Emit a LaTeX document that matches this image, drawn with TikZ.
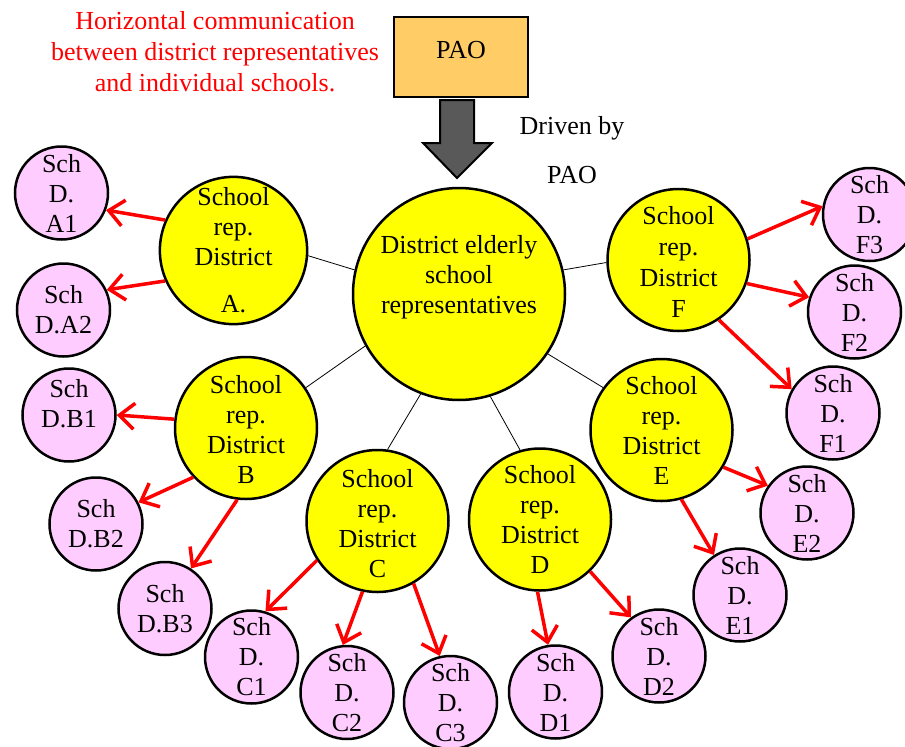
\documentclass[tikz,border=0pt]{standalone}
\usepackage{fontspec}
\setmainfont{Liberation Serif}
\usetikzlibrary{arrows.meta}
\definecolor{paoorange}{HTML}{FFCC66}
\definecolor{repyellow}{HTML}{FFFF00}
\definecolor{schpink}{HTML}{FFCCFF}
\definecolor{blockgray}{HTML}{595959}

\begin{document}
\begin{tikzpicture}[x=1pt,y=-1pt,
  txt/.style={font=\fontsize{26}{30}\selectfont, align=center},
  hub/.style={circle, draw, line width=2.5pt, fill=repyellow, minimum size=212pt, inner sep=0pt, txt},
  rep/.style={circle, draw, line width=2.5pt, fill=repyellow, minimum size=142pt, inner sep=0pt, txt},
  sch/.style={circle, draw, line width=2.5pt, fill=schpink, minimum size=93pt, inner sep=0pt, txt},
  link/.style={line width=0.8pt},
  feed/.style={red, line width=3.5pt, -{Straight Barb[length=15pt,width=26pt]}},
]
\useasboundingbox (0,0) rectangle (905,747);

% caption and top box
\node[txt, red, font=\fontsize{26}{31}\selectfont] (note) at (215,52)
  {Horizontal communication\\between district representatives\\and individual schools.};
\node[txt, draw, line width=2.5pt, fill=paoorange, minimum width=134pt, minimum height=80pt,
      text height=18pt, text depth=15pt] (pao) at (461,57) {PAO};
\node[txt] (drv1) at (572,128) {Driven by};
\node[txt] (drv2) at (572,175) {PAO};

% block arrow from the PAO box down to the hub
\draw[line width=2pt, fill=blockgray, line join=miter]
  (440,100) -- (474,100) -- (474,143) -- (492,143) -- (457,178)
  -- (423,143) -- (440,143) -- cycle;

% hub and district representatives
\node[hub] (hub) at (459,294) {};
\node[txt, yshift=17pt] (hubtxt) at (hub.center) {District elderly\\school\\representatives};
\node[rep] (A) at (233.5,250.5) {School\\rep.\\District\\[17pt]A.};
\node[rep] (B) at (246,428) {\\[-8pt]School\\rep.\\District\\B};
\node[rep] (C) at (377.5,521) {\\[-6pt]School\\rep.\\District\\C};
\node[rep] (D) at (540,519.5) {School\\rep.\\District\\D};
\node[rep] (E) at (661.5,430) {School\\rep.\\District\\E};
\node[rep, font=\fontsize{26}{31}\selectfont] (F) at (678.5,260) {\\[-10pt]School\\rep.\\District\\F};

% schools
\node[sch] (A1) at (61.5,193) {Sch\\D.\\A1};
\node[sch] (A2) at (63.5,310) {Sch\\D.A2};
\node[sch] (B1) at (69,415) {Sch\\D.B1\\[-6pt]};
\node[sch] (B2) at (96,524) {Sch\\D.B2};
\node[sch] (B3) at (165,608.5) {Sch\\D.B3};
\node[sch] (C1) at (251.5,657) {Sch\\D.\\C1};
\node[sch] (C2) at (347,692.5) {Sch\\D.\\C2};
\node[sch] (C3) at (450.5,702.5) {Sch\\D.\\C3};
\node[sch] (D1) at (555.5,692) {Sch\\D.\\D1};
\node[sch] (D2) at (659,656) {Sch\\D.\\D2};
\node[sch] (E1) at (740,595) {Sch\\D.\\E1};
\node[sch] (E2) at (807,513) {Sch\\D.\\E2};
\node[sch] (F1) at (833,413) {Sch\\D.\\F1};
\node[sch] (F2) at (854.5,312) {Sch\\D.\\F2};
\node[sch] (F3) at (869.5,214.5) {Sch\\D.\\F3};

% hub links
\draw[link] (hub.167) -- (A.-4);
\draw[link] (hub.209) -- (B.34);
\draw[link] (hub.249) -- (C.82);
\draw[link] (hub.-73) -- (D.106);
\draw[link] (hub.-34) -- (E.144);
\draw[link] (hub.13) -- (F.182);

% horizontal communication to schools
\draw[feed] (A.156) -- (A1.-21);
\draw[feed] (A.204) -- (A2.25);
\draw[feed] (B.173) -- (B1.0);
\draw[feed] (B.223) -- (B2.27);
\draw[feed] (B.263) -- (B3.57);
\draw[feed] (C.213) -- (C1.73);
\draw[feed] (C.258) -- (C2.95);
\draw[feed] (C.300) -- (C3.103);
\draw[feed] (D.268) -- (D1.99);
\draw[feed] (D.-46) -- (D2.126);
\draw[feed] (E.-74) -- (E1.123);
\draw[feed] (E.-31) -- (E2.145);
\draw[feed] (F.-56) -- (F1.150);
\draw[feed] (F.-19) -- (F2.162);
\draw[feed] (F.17) -- (F3.170);
\end{tikzpicture}
\end{document}
